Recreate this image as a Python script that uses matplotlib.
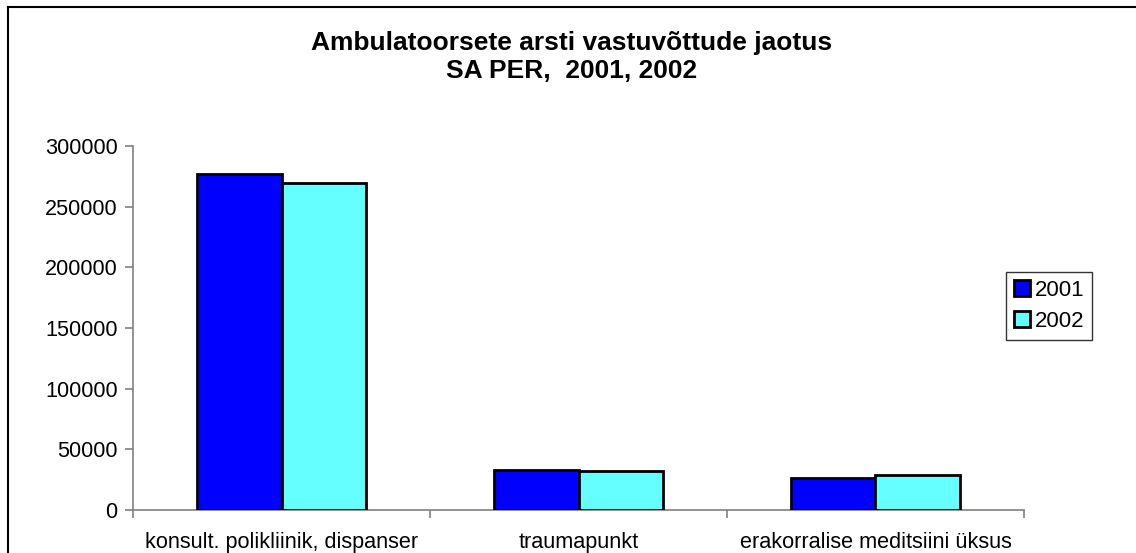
import matplotlib
matplotlib.use("Agg")
import matplotlib.pyplot as plt
import numpy as np
from matplotlib.lines import Line2D

categories = ["konsult. polikliinik, dispanser", "traumapunkt", "erakorralise meditsiini üksus"]
series_names = ["2001", "2002"]
values_2001 = [277000, 33000, 26700]
values_2002 = [269800, 32200, 28600]
yticks = [0, 50000, 100000, 150000, 200000, 250000, 300000]
colors = ["#0000FF", "#66FFFF"]

plt.rcParams['font.family'] = ['Liberation Sans', 'DejaVu Sans']

W, H = 1136, 553
fig = plt.figure(figsize=(W / 100, H / 100), dpi=100)
ax = fig.add_axes([133 / W, 1 - 510 / H, (1024 - 133) / W, (510 - 146) / H])

x = np.arange(len(categories))
bw = 0.286
ax.bar(x - bw / 2, values_2001, bw, color=colors[0], edgecolor="black", linewidth=2, label=series_names[0], zorder=3)
ax.bar(x + bw / 2, values_2002, bw, color=colors[1], edgecolor="black", linewidth=2, label=series_names[1], zorder=3)

ax.set_xlim(-0.5, len(categories) - 0.5)
ax.set_ylim(0, 300000)
ax.set_yticks(yticks)
ax.set_yticklabels([str(v) for v in yticks], fontsize=15.6)
ax.set_xticks(x)
ax.set_xticklabels(categories, fontsize=15.6)
ax.tick_params(axis='x', which='major', length=0, pad=16)
ax.set_xticks(np.arange(-0.5, len(categories)), minor=True)
ax.tick_params(axis='x', which='minor', length=6, color="#808080", width=1.2)
ax.tick_params(axis='y', length=6, color="#808080", width=1.2, pad=5)

for s in ["top", "right"]:
    ax.spines[s].set_visible(False)
for s in ["left", "bottom"]:
    ax.spines[s].set_color("#808080")
    ax.spines[s].set_linewidth(1.2)

leg = ax.legend(loc="upper left", bbox_to_anchor=(1006 / W, 1 - 272 / H), bbox_transform=fig.transFigure,
                borderaxespad=0, fontsize=16, frameon=True, fancybox=False, edgecolor="black",
                handlelength=0.75, handleheight=0.75, handletextpad=0.2, labelspacing=0.45,
                borderpad=0.35)
leg.get_frame().set_linewidth(1.0)

fig.text(572 / W, 1 - 57 / H, "Ambulatoorsete arsti vastuvõttude jaotus\nSA PER,  2001, 2002",
         ha="center", va="center", fontsize=19, fontweight="bold", linespacing=1.25)

fig.add_artist(Line2D([8 / W, 8 / W], [0, 1 - 7 / H], transform=fig.transFigure, color="black", linewidth=1.5))
fig.add_artist(Line2D([8 / W, 1.0], [1 - 7 / H, 1 - 7 / H], transform=fig.transFigure, color="black", linewidth=1.5))

fig.savefig("out.png", dpi=100)
